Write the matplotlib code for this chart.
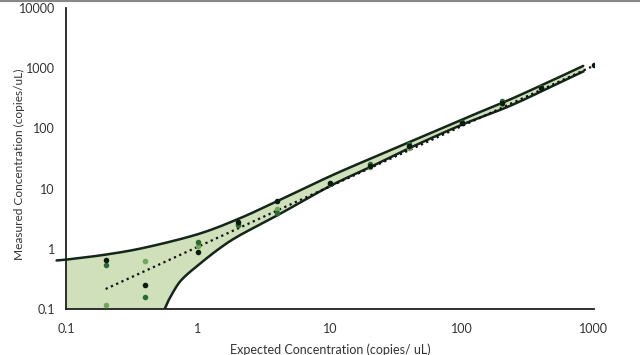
#!/usr/bin/env python3
"""
Measured vs expected concentration, log-log, with shaded confidence band.
"""

import matplotlib
matplotlib.use('Agg')
import matplotlib.pyplot as plt
import numpy as np

plt.rcParams['font.family'] = ['Lato', 'DejaVu Sans']

# band edges
band_x_upper = [0.085, 0.1, 0.2, 0.4, 1, 2, 4, 10, 20, 40, 100, 230, 500, 830]
band_y_upper = [0.64, 0.66, 0.80, 1.05, 1.75, 3.1, 6.2, 16, 31, 59, 140, 300, 650, 1090]
band_x_lower = [0.56, 0.6, 0.7, 0.8, 1, 1.4, 2, 4, 10, 20, 40, 100, 230, 500, 830]
band_y_lower = [0.1, 0.14, 0.25, 0.35, 0.53, 0.95, 1.6, 3.6, 11, 22.5, 47, 115, 235, 520, 880]

# replicate measurements
x_black = [0.2, 0.4, 1, 2, 4, 10, 20, 40, 100, 200, 400, 1000]
y_black = [0.64, 0.25, 0.87, 2.8, 6.2, 12.4, 24, 50, 125, 260, 470, 1130]
x_dark = [0.2, 0.4, 1, 2, 4, 10, 20, 40, 100, 200, 400]
y_dark = [0.53, 0.157, 1.32, 2.5, 4.0, 12.0, 26, 54, 130, 285, 490]
x_light = [0.2, 0.4, 1, 2, 4, 20, 40, 200]
y_light = [0.117, 0.62, 1.1, 2.6, 4.6, 23, 48, 250]

# fitted trend line
trend_x = [0.2, 1000]
trend_y = [0.215, 1100]


def smooth_path(xs, ys, n=12):
    # Catmull-Rom through the read points, done in log space so the curve
    # passes through every point but has no corners
    lx = np.log10(xs)
    ly = np.log10(ys)
    p = np.column_stack([lx, ly])
    p = np.vstack([2 * p[0] - p[1], p, 2 * p[-1] - p[-2]])
    out = []
    t = np.linspace(0, 1, n, endpoint=False)[:, None]
    for i in range(1, len(p) - 2):
        p0, p1, p2, p3 = p[i - 1], p[i], p[i + 1], p[i + 2]
        seg = 0.5 * ((2 * p1) + (-p0 + p2) * t
                     + (2 * p0 - 5 * p1 + 4 * p2 - p3) * t ** 2
                     + (-p0 + 3 * p1 - 3 * p2 + p3) * t ** 3)
        out.append(seg)
    out.append(p[-2][None, :])
    out = np.vstack(out)
    return 10 ** out[:, 0], 10 ** out[:, 1]


ux, uy = smooth_path(band_x_upper, band_y_upper)
lx, ly = smooth_path(band_x_lower, band_y_lower)

fig = plt.figure(figsize=(6.4, 3.55), dpi=100)
ax = fig.add_axes([0.103, 0.1296, 0.825, 0.848])
ax.set_xscale('log')
ax.set_yscale('log')
ax.set_xlim(0.1, 1000)
ax.set_ylim(0.1, 10000)

# shaded band: upper edge, then lower edge back, closed along the bottom axis
poly_x = np.concatenate([ux, lx[::-1], [band_x_upper[0]]])
poly_y = np.concatenate([uy, ly[::-1], [band_y_lower[0]]])
ax.fill(poly_x, poly_y, color='#cfe0bb', zorder=1)

ax.plot(ux, uy, color='#14261a', lw=1.8, zorder=3, clip_on=False,
        solid_capstyle='round')
ax.plot(lx, ly, color='#14261a', lw=1.8, zorder=3)

ax.plot(trend_x, trend_y, color='#101010', lw=1.6, ls=(0, (1, 1.6)), zorder=4)

ax.scatter(x_light, y_light, s=16, color='#6fa85a', zorder=5, linewidths=0)
ax.scatter(x_dark, y_dark, s=16, color='#2a6a32', zorder=5, linewidths=0)
ax.scatter(x_black, y_black, s=16, color='#0b1a0e', zorder=6, linewidths=0)

ax.set_xticks([0.1, 1, 10, 100, 1000])
ax.set_xticklabels(['0.1', '1', '10', '100', '1000'])
ax.set_yticks([0.1, 1, 10, 100, 1000, 10000])
ax.set_yticklabels(['0.1', '1', '10', '100', '1000', '10000'])
ax.minorticks_off()
ax.tick_params(length=0, labelsize=9, colors='#333333', pad=10)
ax.tick_params(axis='y', pad=8)

for side in ['top', 'right']:
    ax.spines[side].set_visible(False)
for side in ['left', 'bottom']:
    ax.spines[side].set_color('#202020')
    ax.spines[side].set_linewidth(1.3)

ax.set_xlabel('Expected Concentration (copies/ uL)', fontsize=9, color='#333333',
              labelpad=6)
ax.set_ylabel('Measured Concentration (copies/uL)', fontsize=8.6, color='#333333')
ax.yaxis.set_label_coords(-0.078, 0.48)

# thin grey border at the top of the image
fig.add_artist(plt.Line2D([0, 1], [0.997, 0.997], color='#888888', lw=1.5))

fig.savefig('out.png', dpi=100)
